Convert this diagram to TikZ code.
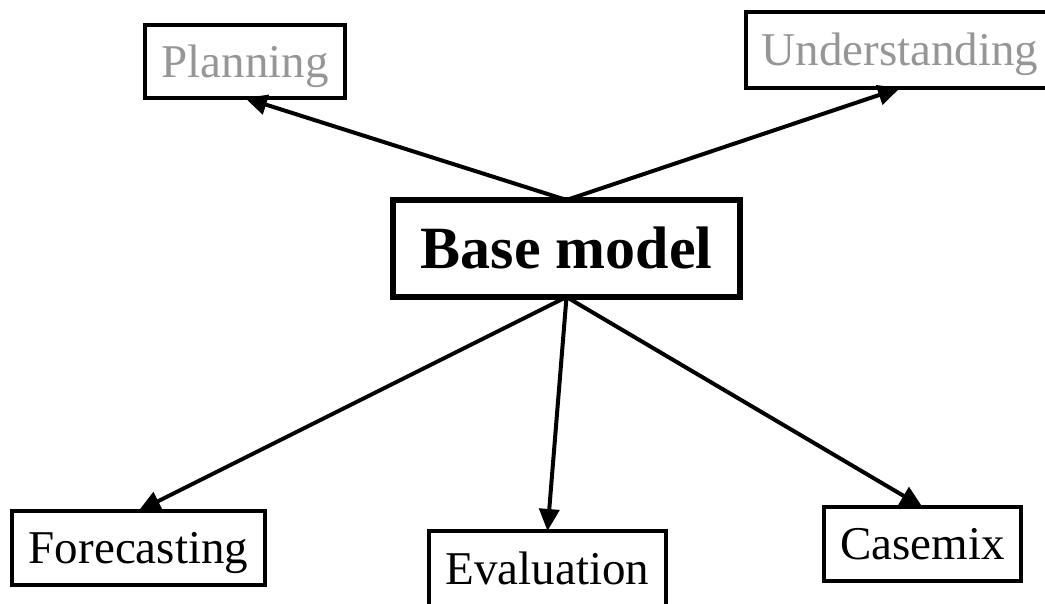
\documentclass[tikz,border=0pt]{standalone}
\usepackage{fontspec}
\setmainfont{Liberation Serif}
\usetikzlibrary{arrows.meta}
\definecolor{softgray}{RGB}{150,150,150}
\begin{document}
\begin{tikzpicture}[x=1pt,y=-1pt,
  box/.style={draw, rectangle, line width=4.5pt, inner sep=0pt, outer sep=0pt,
    text height=37.6pt, text depth=6.5pt, font=\fontsize{47}{50}\selectfont},
  mainbox/.style={box, line width=6pt, text height=48pt, text depth=7.5pt,
    font=\fontsize{60}{64}\selectfont\bfseries},
  faded/.style={text=softgray},
  link/.style={line width=4pt, -{Triangle[length=22pt,width=20pt]}}]
\useasboundingbox (0,0) rectangle (1045,603);
\clip (0,0) rectangle (1045,603);

% central model
\node[mainbox, minimum width=347pt, minimum height=97pt] (base) at (566.5,248.5) {Base model};

% uses above
\node[box, faded, minimum width=200pt, minimum height=73pt] (plan) at (245,61.5) {Planning};
\node[box, faded, minimum width=308pt, minimum height=76pt] (under) at (900,50) {Understanding};

% uses below
\node[box, minimum width=253pt, minimum height=74pt] (fore) at (138.5,548) {Forecasting};
\node[box, minimum width=237pt, minimum height=76pt] (eval) at (547.5,569) {Evaluation};
\node[box, minimum width=197pt, minimum height=74pt] (case) at (922.5,544) {Casemix};

% connectors
\draw[link] (base.north) -- (plan.south);
\draw[link] (base.north) -- (under.south);
\draw[link] (base.south) -- (fore.north);
\draw[link] (base.south) -- (eval.north);
\draw[link] (base.south) -- (case.north);
\end{tikzpicture}
\end{document}
